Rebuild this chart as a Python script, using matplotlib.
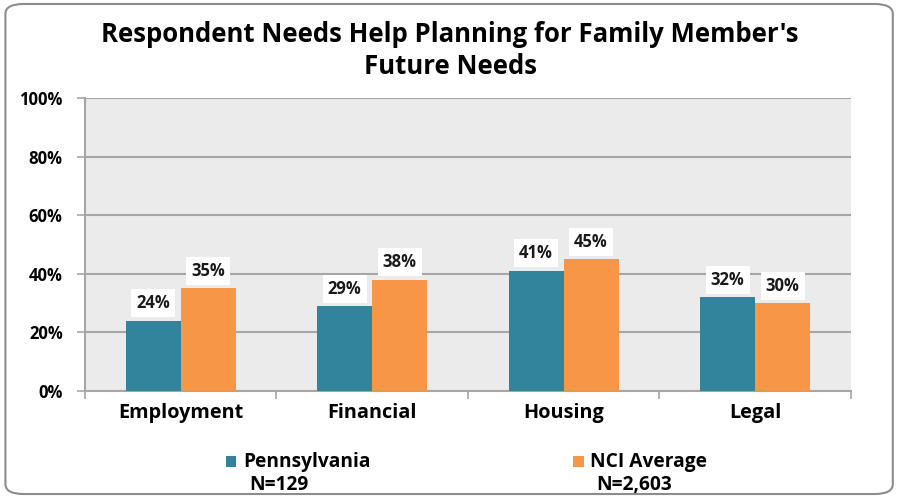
import matplotlib.pyplot as plt
from matplotlib.patches import FancyBboxPatch, Rectangle
import numpy as np

categories = ['Employment', 'Financial', 'Housing', 'Legal']
pennsylvania = [24, 29, 41, 32]
nci_average = [35, 38, 45, 30]
series_names = ['Pennsylvania', 'NCI Average']
series_n = ['N=129', 'N=2,603']
y_ticks = [0, 20, 40, 60, 80, 100]

teal = '#31849b'
orange = '#f79646'
grid_gray = '#a6a6a6'

plt.rcParams['font.family'] = ['Open Sans', 'DejaVu Sans']

fig = plt.figure(figsize=(9, 4.98), dpi=100)

# outer rounded frame
frame = FancyBboxPatch((0.006, 0.008), 0.986, 0.984, boxstyle='round,pad=0,rounding_size=0.02',
                       transform=fig.transFigure, facecolor='none', edgecolor='#8c8c8c',
                       linewidth=1.5, zorder=-1)
fig.patches.append(frame)

ax = fig.add_axes([0.0944, 0.2149, 0.851, 0.5883])
ax.set_facecolor('#ebebeb')

x = np.arange(len(categories))
w = 0.287
b1 = ax.bar(x - w / 2, pennsylvania, w, color=teal, zorder=3)
b2 = ax.bar(x + w / 2, nci_average, w, color=orange, zorder=3)

for bars, vals in [(b1, pennsylvania), (b2, nci_average)]:
    for bar, v in zip(bars, vals):
        ax.annotate(f'{v}%', (bar.get_x() + bar.get_width() / 2, v), xytext=(0, 12.5),
                    textcoords='offset points', ha='center', va='center',
                    fontsize=12, fontweight='bold', color='#1a1a1a', zorder=5,
                    bbox=dict(boxstyle='square,pad=0.3', facecolor='white', edgecolor='none'))

ax.set_xlim(-0.5, len(categories) - 0.5)
ax.set_ylim(0, 100)
ax.set_yticks(y_ticks)
ax.set_yticklabels([f'{t}%' for t in y_ticks], fontsize=12, fontweight='bold')
ax.yaxis.grid(True, color=grid_gray, linewidth=1.5, zorder=0)
ax.set_axisbelow(True)

# category labels centred, ticks at boundaries
ax.set_xticks(x)
ax.set_xticklabels(categories, fontsize=14.3, fontweight='bold')
ax.tick_params(axis='x', length=0, pad=9)
ax.set_xticks(np.arange(len(categories) + 1) - 0.5, minor=True)
ax.tick_params(axis='x', which='minor', length=6, color=grid_gray, width=1.2)
ax.tick_params(axis='y', length=6, color=grid_gray, width=1.2, pad=10)

for s in ['top', 'right']:
    ax.spines[s].set_visible(False)
for s in ['left', 'bottom']:
    ax.spines[s].set_color(grid_gray)
    ax.spines[s].set_linewidth(1.5)

fig.text(0.5, 0.899, "Respondent Needs Help Planning for Family Member's\nFuture Needs",
         ha='center', va='center', fontsize=18.5, fontweight='bold', linespacing=1.22)

# legend
leg_x = [0.251, 0.637]
for lx, name, n, c in zip(leg_x, series_names, series_n, [teal, orange]):
    fig.patches.append(Rectangle((lx, 0.063), 0.0115, 0.021, transform=fig.transFigure,
                                 facecolor=c, edgecolor='none'))
    fig.text(lx + 0.019, 0.073, name, ha='left', va='center', fontsize=13.8, fontweight='bold')
    fig.text(lx + 0.026, 0.027, n, ha='left', va='center', fontsize=13.8, fontweight='bold')

fig.savefig('out.png', dpi=100)
